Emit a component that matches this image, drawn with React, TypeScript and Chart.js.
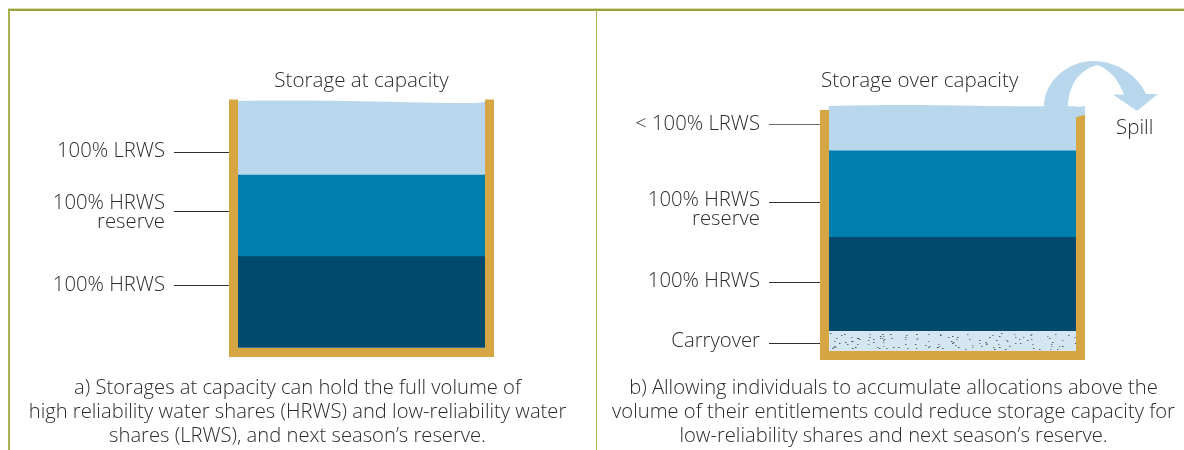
import React, { useEffect, useRef } from "react";
import { Chart, registerables } from "chart.js";

Chart.register(...registerables);

// ---------- data ----------
const panelTitles = ["Storage at capacity", "Storage over capacity"];
const layerNames = ["Carryover", "100% HRWS", "100% HRWS reserve", "LRWS"];
// volumes as share of storage (capacity = 100)
const carryover = [0, 8];
const hrws = [37, 38];
const hrwsReserve = [33, 35];
const lrws = [29, 18];
// wall heights (storage capacity) for each tank: left wall / right wall
const wallLeftLevel = [100.6, 97.6];
const wallRightLevel = [100.6, 95.3];

const labelTextsA = [["100% LRWS"], ["100% HRWS", "reserve"], ["100% HRWS"]];
const labelLevelsA = [79.5, 55.5, 25.5];
const labelTextLevelsA = [79.6, 58.8, 25.5];

const labelTextsB = [["< 100% LRWS"], ["100% HRWS", "reserve"], ["100% HRWS"], ["Carryover"]];
const labelLevelsB = [91.9, 60.3, 27.8, 3.4];
const labelTextLevelsB = [91.8, 61.1, 28.3, 3.8];

const spillLabel = "Spill";

const captionA = [
  "a) Storages at capacity can hold the full volume of",
  "high reliability water shares (HRWS) and low-reliability water",
  "shares (LRWS), and next season\u2019s reserve.",
];
const captionB = [
  "b) Allowing individuals to accumulate allocations above the",
  "volume of their entitlements could reduce storage capacity for",
  "low-reliability shares and next season\u2019s reserve.",
];

// ---------- styles ----------
const FONT = "'Open Sans', 'Liberation Sans', sans-serif";
const TEXT = "#2b2b2b";
const GOLD = "#d5a641";
const C_LIGHT = "#b9d7ec";
const C_MID = "#007ead";
const C_DARK = "#004a6e";
const C_CARRY = "#d5e6f3";
const WALL = 9;

type Panel = {
  idx: number;
  width: number;
  pad: { left: number; right: number; top: number; bottom: number };
  titleAlign: "center" | "start";
  titlePadBottom: number;
  labels: string[][];
  levels: number[];
  textLevels: number[];
  textGap: number;
  lineLen: number;
  caption: string[];
  captionX: number;
  spill: boolean;
};

const panels: Panel[] = [
  {
    idx: 0,
    width: 596,
    pad: { left: 229, right: 102, top: 68.6, bottom: 102 },
    titleAlign: "center",
    titlePadBottom: 7.7,
    labels: labelTextsA,
    levels: labelLevelsA,
    textLevels: labelTextLevelsA,
    textGap: 64,
    lineLen: 55,
    caption: captionA,
    captionX: 297.5,
    spill: false,
  },
  {
    idx: 1,
    width: 587,
    pad: { left: 224, right: 100, top: 68.6, bottom: 99 },
    titleAlign: "start",
    titlePadBottom: 10.7,
    labels: labelTextsB,
    levels: labelLevelsB,
    textLevels: labelTextLevelsB,
    textGap: 60,
    lineLen: 51,
    caption: captionB,
    captionX: 296.5,
    spill: true,
  },
];

function makePlugin(p: Panel) {
  return {
    id: "storageTank" + p.idx,
    afterDatasetsDraw(chart: any) {
      const ctx: CanvasRenderingContext2D = chart.ctx;
      const y = chart.scales.y;
      const topEl = chart.getDatasetMeta(3).data[0];
      const xL = topEl.x - topEl.width / 2;
      const xR = topEl.x + topEl.width / 2;
      const top = topEl.y;
      const bottom = y.getPixelForValue(0);
      const wallTopL = y.getPixelForValue(wallLeftLevel[p.idx]);
      const wallTopR = y.getPixelForValue(wallRightLevel[p.idx]);
      ctx.save();

      // wavy water surface
      ctx.fillStyle = C_LIGHT;
      ctx.beginPath();
      if (!p.spill) {
        ctx.moveTo(xL, top + 4);
        ctx.lineTo(xL, top - 2.6);
        ctx.bezierCurveTo(xL + 70, top - 4, xL + 150, top - 1.5, xR - 15, top - 0.2);
        ctx.quadraticCurveTo(xR - 5, top - 0.6, xR, top - 2);
        ctx.lineTo(xR, top + 4);
      } else {
        ctx.moveTo(xL, top + 4);
        ctx.lineTo(xL, top - 0.5);
        ctx.bezierCurveTo(xL + 60, top - 2.5, xL + 150, top - 1.5, xR - 30, top + 1.5);
        ctx.quadraticCurveTo(xR - 10, top + 2.5, xR + WALL, top - 0.5);
        ctx.lineTo(xR + WALL, wallTopR + 2);
        ctx.lineTo(xR, wallTopR + 4);
        ctx.lineTo(xR, top + 4);
      }
      ctx.closePath();
      ctx.fill();

      // spill arrow
      if (p.spill) {
        const b = top;
        ctx.beginPath();
        ctx.moveTo(xR - 32, b + 2);
        ctx.bezierCurveTo(xR - 33, b - 25, xR - 8, b - 45.5, xR + 17, b - 45.5);
        ctx.bezierCurveTo(xR + 42, b - 45.5, xR + 62, b - 30, xR + 70, b - 12.5);
        ctx.lineTo(xR + 82, b - 12.5);
        ctx.lineTo(xR + 61, b + 4.5);
        ctx.lineTo(xR + 37, b - 12);
        ctx.lineTo(xR + 48, b - 12);
        ctx.bezierCurveTo(xR + 42, b - 28, xR + 32, b - 38, xR + 21, b - 41.5);
        ctx.bezierCurveTo(xR + 2, b - 36, xR - 8, b - 20, xR - 8, b + 2);
        ctx.closePath();
        ctx.fill();
      }

      // carryover texture
      const cEl = chart.getDatasetMeta(0).data[0];
      if (cEl && Math.abs(cEl.base - cEl.y) > 2) {
        let s = 987654;
        const rnd = () => {
          s = (s * 16807) % 2147483647;
          return s / 2147483647;
        };
        ctx.fillStyle = "#2f3a44";
        const h = cEl.base - cEl.y;
        for (let k = 0; k < 125; k++) {
          const dx = xL + 1 + rnd() * (xR - xL - 2);
          const dy = cEl.y + 2 + rnd() * (h - 4);
          ctx.globalAlpha = 0.5 + rnd() * 0.4;
          ctx.fillRect(Math.round(dx), Math.round(dy), 1.5, 1);
        }
        ctx.globalAlpha = 1;
      }

      // tank walls
      ctx.fillStyle = GOLD;
      ctx.fillRect(xL - WALL, wallTopL, WALL, bottom + WALL - wallTopL);
      ctx.fillRect(xL - WALL, bottom, xR - xL + 2 * WALL, WALL);
      ctx.beginPath();
      if (p.spill) {
        ctx.moveTo(xR, wallTopR + 1.5);
        ctx.lineTo(xR + WALL, wallTopR - 1);
      } else {
        ctx.moveTo(xR, wallTopR);
        ctx.lineTo(xR + WALL, wallTopR);
      }
      ctx.lineTo(xR + WALL, bottom + WALL);
      ctx.lineTo(xR, bottom + WALL);
      ctx.closePath();
      ctx.fill();

      // labels with leader lines
      ctx.font = `300 20.3px ${FONT}`;
      ctx.fillStyle = TEXT;
      ctx.textAlign = "right";
      ctx.textBaseline = "middle";
      const wallOuter = xL - WALL;
      p.labels.forEach((lines, i) => {
        const ly = Math.round(y.getPixelForValue(p.levels[i])) + 0.5;
        const ty = y.getPixelForValue(p.textLevels[i]);
        lines.forEach((t, j) => ctx.fillText(t, wallOuter - p.textGap, ty + j * 19));
        ctx.strokeStyle = i === 0 && p.spill ? "#6b6b6b" : "#2e2e2e";
        ctx.lineWidth = 1;
        ctx.beginPath();
        ctx.moveTo(wallOuter - p.lineLen, ly);
        ctx.lineTo(wallOuter, ly);
        ctx.stroke();
      });

      // spill label
      if (p.spill) {
        ctx.textAlign = "left";
        ctx.font = `300 20.5px ${FONT}`;
        ctx.fillText(spillLabel, xR + WALL + 31, top + 22);
      }

      // caption
      ctx.textAlign = "center";
      ctx.font = `300 20.2px ${FONT}`;
      p.caption.forEach((t, j) => ctx.fillText(t, p.captionX, 388 + j * 24));
      ctx.restore();
    },
  };
}

function TankChart({ p }: { p: Panel }) {
  const ref = useRef<HTMLCanvasElement | null>(null);
  useEffect(() => {
    if (!ref.current) return;
    const i = p.idx;
    const chart = new Chart(ref.current, {
      type: "bar",
      data: {
        labels: [panelTitles[i]],
        datasets: [
          { label: layerNames[0], data: [carryover[i]], backgroundColor: C_CARRY },
          { label: layerNames[1], data: [hrws[i]], backgroundColor: C_DARK },
          { label: layerNames[2], data: [hrwsReserve[i]], backgroundColor: C_MID },
          { label: layerNames[3], data: [lrws[i]], backgroundColor: C_LIGHT },
        ],
      },
      options: {
        responsive: false,
        animation: false,
        devicePixelRatio: 1,
        layout: { padding: p.pad },
        datasets: { bar: { barThickness: 247, borderWidth: 0 } },
        scales: {
          x: { stacked: true, display: false },
          y: { stacked: true, display: false, min: 0, max: 100 },
        },
        plugins: {
          legend: { display: false },
          tooltip: { enabled: false },
          title: {
            display: true,
            text: panelTitles[i],
            align: p.titleAlign,
            color: TEXT,
            font: { family: FONT, size: 20.6, weight: "300", lineHeight: 1.2 },
            padding: { top: 0, bottom: p.titlePadBottom },
          },
        },
      },
      plugins: [makePlugin(p)],
    } as any);
    return () => chart.destroy();
  }, [p]);
  return <canvas ref={ref} width={p.width} height={450} style={{ display: "block" }} />;
}

export default function App() {
  return (
    <div style={{ position: "absolute", left: 0, top: 0, width: 1184, height: 450, background: "#fff", overflow: "hidden" }}>
      <div style={{ position: "absolute", left: 0, top: 0 }}>
        <TankChart p={panels[0]} />
      </div>
      <div style={{ position: "absolute", left: 597, top: 0 }}>
        <TankChart p={panels[1]} />
      </div>
      <div style={{ position: "absolute", left: 8, top: 8, width: 1176, height: 1, background: "#d9ddb4" }} />
      <div style={{ position: "absolute", left: 8, top: 9, width: 1176, height: 1.5, background: "#98a13a" }} />
      <div style={{ position: "absolute", left: 8, top: 10, width: 1.5, height: 440, background: "#aab150" }} />
      <div style={{ position: "absolute", left: 595.5, top: 10, width: 1.5, height: 440, background: "#aab150" }} />
    </div>
  );
}
